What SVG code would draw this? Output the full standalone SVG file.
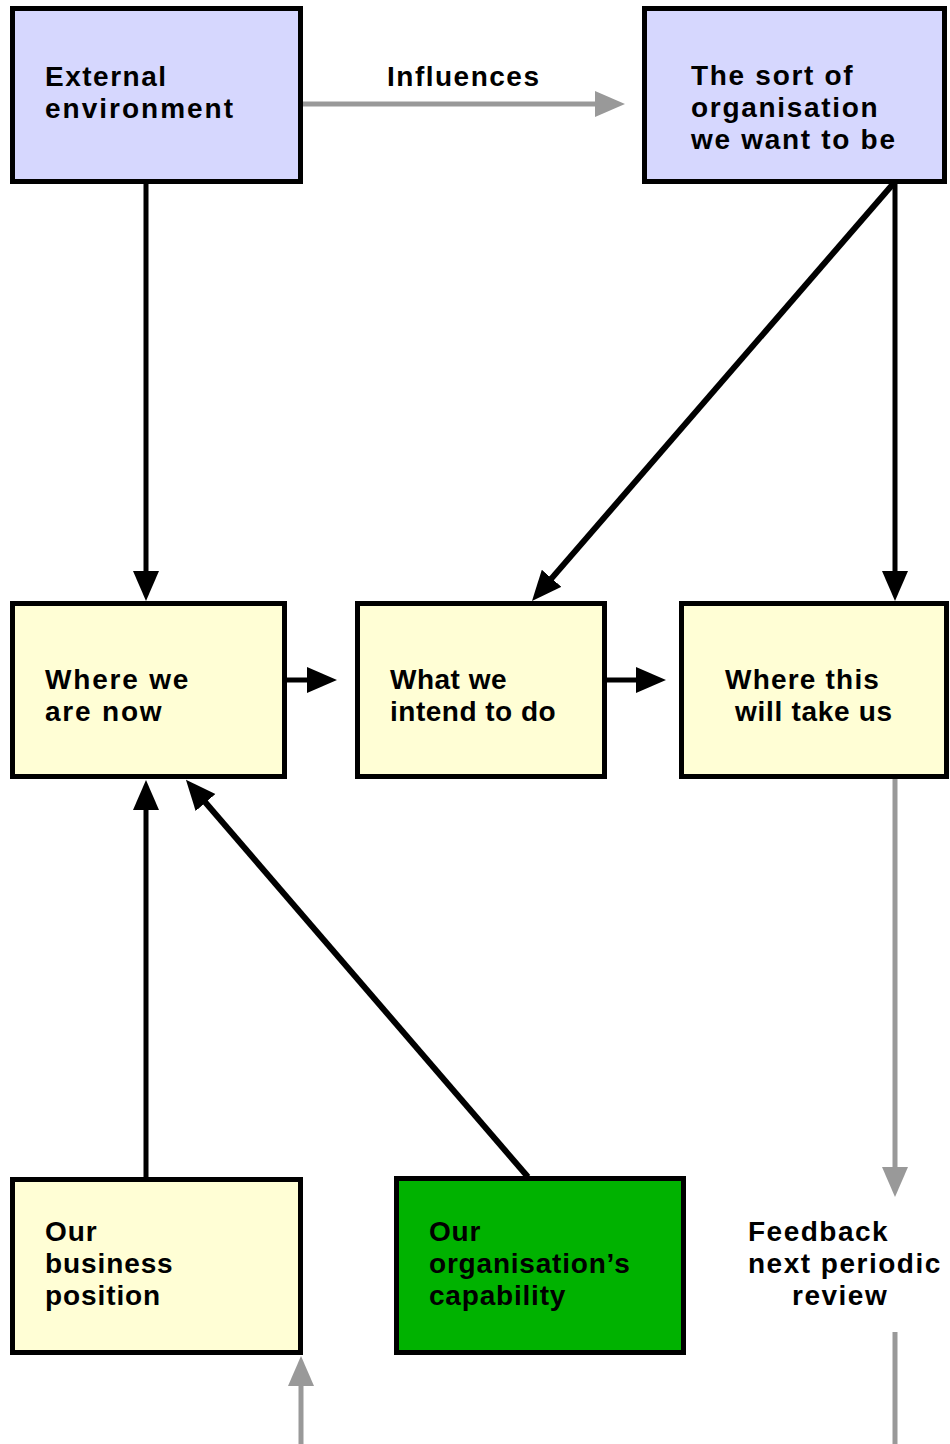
<svg xmlns="http://www.w3.org/2000/svg" width="950" height="1444" viewBox="0 0 950 1444">
  <style>
    .box { stroke: #000; stroke-width: 5; }
    .blue { fill: #d6d7fe; }
    .yellow { fill: #fffed5; }
    .green { fill: #00b200; }
    .lbl { font-family: "Liberation Sans", Arial, sans-serif; font-weight: bold; font-size: 28px; fill: #000; }
    .blk { stroke: #000; stroke-width: 5; fill: none; }
    .diag { stroke: #000; stroke-width: 6; fill: none; }
    .gry { stroke: #999; stroke-width: 5; fill: none; }
  </style>
  <defs>
    <marker id="ah" markerUnits="userSpaceOnUse" markerWidth="32" markerHeight="28" refX="10" refY="13" orient="auto">
      <path d="M0,0 L30,13 L0,26 Z" fill="#000"/>
    </marker>
    <marker id="ahg" markerUnits="userSpaceOnUse" markerWidth="32" markerHeight="28" refX="10" refY="13" orient="auto">
      <path d="M0,0 L30,13 L0,26 Z" fill="#999"/>
    </marker>
  </defs>

  <g id="connectors">
    <!-- influences -->
    <line class="gry" x1="303" y1="104" x2="605" y2="104" marker-end="url(#ahg)"/>
    <!-- external environment down to current position -->
    <line class="blk" x1="146" y1="184" x2="146" y2="581" marker-end="url(#ah)"/>
    <!-- organisation vision to plans and outcomes -->
    <line class="diag" x1="893" y1="184" x2="545.1" y2="585.9" marker-end="url(#ah)"/>
    <line class="blk" x1="895" y1="184" x2="895" y2="581" marker-end="url(#ah)"/>
    <!-- horizontal flow -->
    <line class="blk" x1="287" y1="680" x2="317" y2="680" marker-end="url(#ah)"/>
    <line class="blk" x1="607" y1="680" x2="646" y2="680" marker-end="url(#ah)"/>
    <!-- inputs from below -->
    <line class="blk" x1="146" y1="1177" x2="146" y2="800" marker-end="url(#ah)"/>
    <line class="diag" x1="528" y1="1177" x2="199" y2="795" marker-end="url(#ah)"/>
    <!-- feedback loop -->
    <line class="gry" x1="895" y1="779" x2="895" y2="1177" marker-end="url(#ahg)"/>
    <line class="gry" x1="895" y1="1332" x2="895" y2="1444"/>
    <line class="gry" x1="301" y1="1444" x2="301" y2="1376" marker-end="url(#ahg)"/>
  </g>

  <g id="external-environment">
    <rect class="box blue" x="12.5" y="8.5" width="288" height="173"/>
    <text class="lbl" letter-spacing="1.5"><tspan x="45" y="86">External</tspan><tspan x="45" y="118" letter-spacing="2">environment</tspan></text>
  </g>

  <text id="influences-label" class="lbl" x="387" y="86" letter-spacing="1.5">Influences</text>

  <g id="organisation-vision">
    <rect class="box blue" x="644.5" y="8.5" width="300" height="173"/>
    <text class="lbl" letter-spacing="1.7"><tspan x="691" y="85">The sort of</tspan><tspan x="691" y="117">organisation</tspan><tspan x="691" y="149">we want to be</tspan></text>
  </g>

  <g id="where-we-are-now">
    <rect class="box yellow" x="12.5" y="603.5" width="272" height="173"/>
    <text class="lbl" letter-spacing="1.8"><tspan x="45" y="689">Where we</tspan><tspan x="45" y="721">are now</tspan></text>
  </g>

  <g id="what-we-intend">
    <rect class="box yellow" x="357.5" y="603.5" width="247" height="173"/>
    <text class="lbl" letter-spacing="0.5"><tspan x="390" y="689">What we</tspan><tspan x="390" y="721">intend to do</tspan></text>
  </g>

  <g id="where-this-takes-us">
    <rect class="box yellow" x="681.5" y="603.5" width="265" height="173"/>
    <text class="lbl" letter-spacing="0.7"><tspan x="725" y="689" letter-spacing="1.2">Where this</tspan><tspan x="735" y="721">will take us</tspan></text>
  </g>

  <g id="business-position">
    <rect class="box yellow" x="12.5" y="1179.5" width="288" height="173"/>
    <text class="lbl" letter-spacing="0.9"><tspan x="45" y="1241">Our</tspan><tspan x="45" y="1273">business</tspan><tspan x="45" y="1305">position</tspan></text>
  </g>

  <g id="organisation-capability">
    <rect class="box green" x="396.5" y="1178.5" width="287" height="174"/>
    <text class="lbl" letter-spacing="0.8"><tspan x="429" y="1241">Our</tspan><tspan x="429" y="1273">organisation’s</tspan><tspan x="429" y="1305">capability</tspan></text>
  </g>

  <g id="feedback">
    <text class="lbl" letter-spacing="1.5"><tspan x="748" y="1241">Feedback</tspan><tspan x="748" y="1273">next periodic</tspan><tspan x="792" y="1305">review</tspan></text>
  </g>
</svg>
